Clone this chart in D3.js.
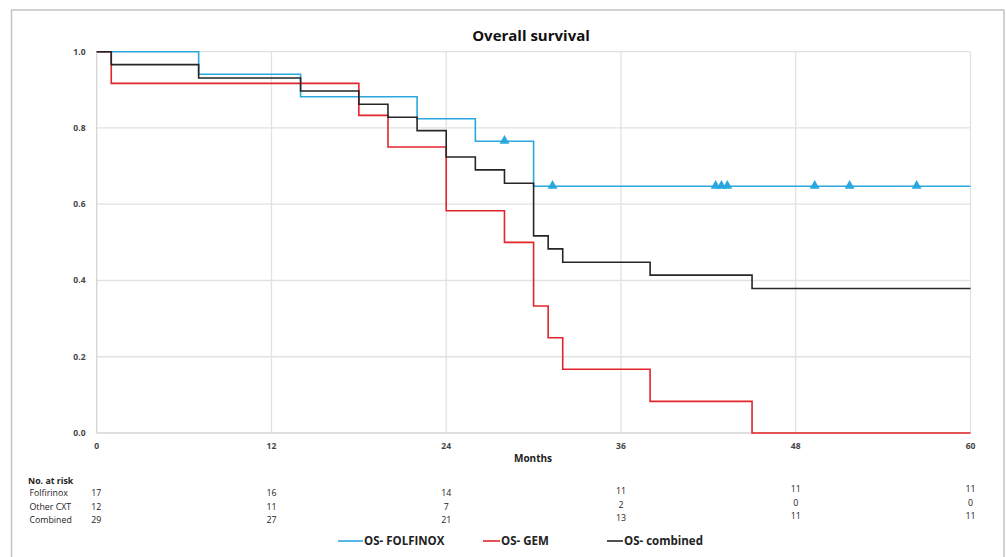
<!DOCTYPE html>
<html><head><meta charset="utf-8">
<script src="https://cdn.jsdelivr.net/npm/d3@7"></script>
<style>body{margin:0;background:#fff}svg{display:block}</style>
</head><body>
<svg id="c" width="1006" height="557"></svg>
<script>
// ---- data ----
const monthsTicks = [0, 12, 24, 36, 48, 60];
const survTicks = [0, 0.2, 0.4, 0.6, 0.8, 1.0];
const folfTimes = [0, 7, 14, 22, 26, 30, 60];
const folfSurv  = [1, 0.941, 0.882, 0.824, 0.765, 0.647, 0.647];
const folfCensorTimes = [28, 31.3, 42.5, 42.9, 43.3, 49.3, 51.7, 56.3];
const folfCensorSurv  = [0.765, 0.647, 0.647, 0.647, 0.647, 0.647, 0.647, 0.647];
const gemTimes = [0, 1, 18, 20, 24, 28, 30, 31, 32, 38, 45, 60];
const gemSurv  = [1, 0.917, 0.833, 0.75, 0.583, 0.5, 0.333, 0.25, 0.167, 0.083, 0, 0];
const combTimes = [0, 1, 7, 14, 18, 20, 22, 24, 26, 28, 30, 31, 32, 38, 45, 60];
const combSurv  = [1, 0.966, 0.931, 0.897, 0.862, 0.828, 0.793, 0.724, 0.690, 0.655, 0.517, 0.483, 0.448, 0.414, 0.379, 0.379];
const riskLabels = ["Folfirinox", "Other CXT", "Combined"];
const riskFolf  = [17, 16, 14, 11, 11, 11];
const riskOther = [12, 11, 7, 2, 0, 0];
const riskComb  = [29, 27, 21, 13, 11, 11];
const legendNames = ["OS- FOLFINOX", "OS- GEM", "OS- combined"];
const colors = ["#2AA7DE", "#E3242B", "#262626"];

// ---- layout ----
const svg = d3.select("#c");
const x = d3.scaleLinear().domain([0, 60]).range([96.7, 970.5]);
const y = d3.scaleLinear().domain([0, 1]).range([433, 51.7]);
const font = "'Open Sans', sans-serif";

// outer frame
svg.append("path").attr("d", "M11.5,560 V10 H1004 V560")
  .attr("fill", "none").attr("stroke", "#c4c4c4").attr("stroke-width", 1.5);

// title
svg.append("text").attr("x", 531).attr("y", 40.5).attr("text-anchor", "middle")
  .attr("font-family", font).attr("font-weight", 700).attr("font-size", 15)
  .attr("fill", "#111").text("Overall survival");

// gridlines
const g = svg.append("g");
g.selectAll(".hg").data(survTicks.filter(d => d > 0)).join("line")
  .attr("x1", x(0)).attr("x2", x(60)).attr("y1", d => y(d)).attr("y2", d => y(d))
  .attr("stroke", "#e2e2e2").attr("stroke-width", 1.3);
g.selectAll(".vg").data(monthsTicks.filter(d => d > 0)).join("line")
  .attr("x1", d => x(d)).attr("x2", d => x(d)).attr("y1", y(0)).attr("y2", y(1))
  .attr("stroke", "#e2e2e2").attr("stroke-width", 1.3);
// axis lines
g.append("line").attr("x1", x(0)).attr("x2", x(60)).attr("y1", y(0)).attr("y2", y(0))
  .attr("stroke", "#d4d4d4").attr("stroke-width", 1.5);
g.append("line").attr("x1", x(0)).attr("x2", x(0)).attr("y1", y(0)).attr("y2", y(1))
  .attr("stroke", "#d4d4d4").attr("stroke-width", 1.3);

// y tick labels
svg.append("g").selectAll("text").data(survTicks).join("text")
  .attr("x", 85.5).attr("y", d => y(d)).attr("dy", "0.35em").attr("text-anchor", "end")
  .attr("font-family", font).attr("font-weight", 700).attr("font-size", 8.5)
  .attr("fill", "#444").text(d => d3.format(".1f")(d));
// x tick labels
svg.append("g").selectAll("text").data(monthsTicks).join("text")
  .attr("x", d => x(d)).attr("y", 446).attr("dy", "0.35em").attr("text-anchor", "middle")
  .attr("font-family", font).attr("font-weight", 700).attr("font-size", 8.5)
  .attr("fill", "#444").text(d => d);
// axis title
svg.append("text").attr("x", 533).attr("y", 458.5).attr("dy", "0.35em").attr("text-anchor", "middle")
  .attr("font-family", font).attr("font-weight", 700).attr("font-size", 10)
  .attr("fill", "#222").text("Months");

// step curves
const line = d3.line().x(d => x(d[0])).y(d => y(d[1])).curve(d3.curveStepAfter);
const curves = [
  d3.zip(folfTimes, folfSurv),
  d3.zip(gemTimes, gemSurv),
  d3.zip(combTimes, combSurv)
];
svg.append("g").selectAll("path").data(curves).join("path")
  .attr("d", d => line(d)).attr("fill", "none")
  .attr("stroke", (d, i) => colors[i]).attr("stroke-width", 1.6);

// censor marks
const tri = d3.symbol().type(d3.symbolTriangle).size(42);
svg.append("g").selectAll("path").data(d3.zip(folfCensorTimes, folfCensorSurv)).join("path")
  .attr("d", tri).attr("transform", d => `translate(${x(d[0])},${y(d[1]) - 0.5})`)
  .attr("fill", colors[0]);

// risk table
const rt = svg.append("g").attr("font-family", font).attr("font-size", 8.8).attr("fill", "#222");
rt.append("text").attr("x", 28).attr("y", 480.5).attr("dy", "0.35em")
  .attr("font-weight", 700).text("No. at risk");
const rowY = [493, 506.5, 520];
const colShift = [0, 0, 0, -2, -4, -4];
riskLabels.forEach((lab, r) => {
  rt.append("text").attr("x", 29.5).attr("y", rowY[r]).attr("dy", "0.35em").text(lab);
});
[riskFolf, riskOther, riskComb].forEach((row, r) => {
  rt.selectAll(null).data(row).join("text")
    .attr("x", (d, i) => x(monthsTicks[i]))
    .attr("y", (d, i) => rowY[r] + colShift[i]).attr("dy", "0.35em")
    .attr("text-anchor", (d, i) => i === 0 ? "start" : "middle")
    .attr("dx", (d, i) => i === 0 ? -5.5 : 0)
    .text(d => d);
});

// legend
const legX = [[338, 363], [483, 500], [607, 623]];
const lg = svg.append("g");
legendNames.forEach((name, i) => {
  lg.append("line").attr("x1", legX[i][0]).attr("x2", legX[i][1]).attr("y1", 541).attr("y2", 541)
    .attr("stroke", colors[i]).attr("stroke-width", 1.6);
  lg.append("text").attr("x", legX[i][1] + 1).attr("y", 541).attr("dy", "0.35em")
    .attr("font-family", font).attr("font-weight", 700).attr("font-size", 11.5)
    .attr("fill", "#222").text(name);
});
</script>
</body></html>
